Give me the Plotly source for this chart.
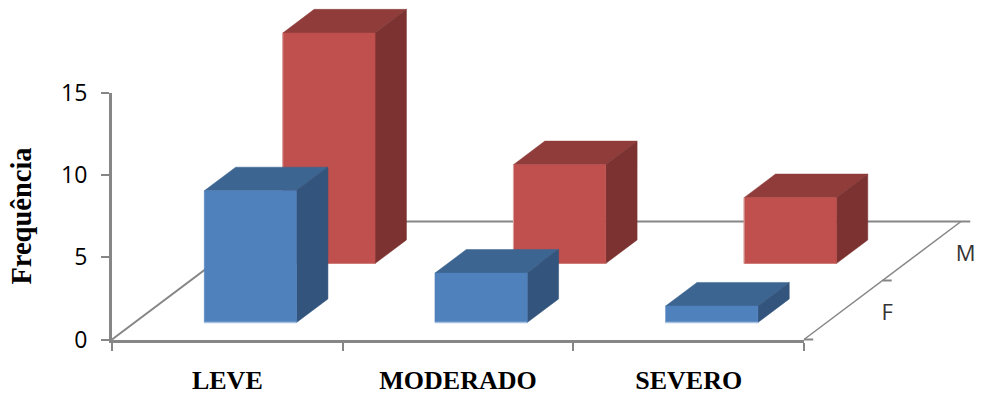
import plotly.graph_objects as go

categories = ["LEVE", "MODERADO", "SEVERO"]
rows = ["F", "M"]
values_f = [8, 3, 1]
values_m = [14, 6, 4]
y_ticks = [0, 5, 10, 15]

WIDTH, HEIGHT = 981, 394
LEFT, RIGHT, TOP, BOTTOM = 112, 804, 92.5, 339.5
GRID = "#868686"
PALETTE = {
    "F": {"front": "#4f81bd", "top": "#3d6591", "side": "#33547c", "edge": "#a9c1e0"},
    "M": {"front": "#c0504d", "top": "#8f3c3a", "side": "#7b3230", "edge": "#dba3a1"},
}

n = len(categories)
x_scale = (RIGHT - LEFT) / n
y_scale = (BOTTOM - TOP) / y_ticks[-1]

# Oblique projection: one unit of depth moves a point right and up the plot.
DEPTH_X = 157 / x_scale
DEPTH_Y = 118 / y_scale
BAR_START = 0.302
BAR_WIDTH = 0.4
ROW_START = {"F": 0.144, "M": 0.644}
BAR_DEPTH = 0.2
OVERLAY = dict(xaxis="x2", yaxis="y2", hoverinfo="skip", showlegend=False)


def project(x, y, d):
    return x + d * DEPTH_X, y + d * DEPTH_Y


def polygon(points, color):
    xs, ys = zip(*[project(*p) for p in points + points[:1]])
    return go.Scatter(x=xs, y=ys, mode="lines", fill="toself", fillcolor=color,
                      line=dict(color=color, width=0.5), **OVERLAY)


def edge(points, color, width):
    xs, ys = zip(*[project(*p) for p in points])
    return go.Scatter(x=xs, y=ys, mode="lines", line=dict(color=color, width=width), **OVERLAY)


def bar(index, value, row):
    x0 = index + BAR_START
    x1 = x0 + BAR_WIDTH
    d0 = ROW_START[row]
    d1 = d0 + BAR_DEPTH
    c = PALETTE[row]
    faces = [
        polygon([(x0, value, d0), (x1, value, d0), (x1, value, d1), (x0, value, d1)], c["top"]),
        polygon([(x1, 0, d0), (x1, 0, d1), (x1, value, d1), (x1, value, d0)], c["side"]),
        polygon([(x0, 0, d0), (x1, 0, d0), (x1, value, d0), (x0, value, d0)], c["front"]),
    ]
    if row == "F":
        faces.append(edge([(x0, 0, d0), (x1, 0, d0)], c["edge"], 1.5))
    else:
        faces.append(edge([(x0, 0, d0), (x0, value, d0)], c["edge"], 1))
    return faces


fig = go.Figure()

# The primary axes carry the ticks; this trace only brings the subplot into being.
fig.add_trace(go.Scatter(x=[0, n], y=[0, y_ticks[-1]], mode="none", hoverinfo="skip", showlegend=False))

# Floor outline and depth-axis ticks sit behind the bars.
fig.add_trace(edge([(0, 0, 0), (0, 0, 1), (n, 0, 1)], GRID, 2))
fig.add_trace(edge([(n, 0, 0), (n, 0, 1)], GRID, 1.5))
for d in [0, 0.5, 1]:
    fig.add_trace(edge([(n, 0, d), (n + 0.04, 0, d)], GRID, 2))

for row, vals in (("M", values_m), ("F", values_f)):
    for i, v in enumerate(vals):
        for face in bar(i, v, row):
            fig.add_trace(face)

# Depth-axis category names, placed beside the right floor edge.
label_x, label_y = zip(*[project(n + 0.19, -0.25, d) for d in (0.25, 0.75)])
fig.add_trace(go.Scatter(
    x=label_x, y=label_y, mode="text", text=rows,
    textfont=dict(family="Open Sans", size=22, color="#333333"), **OVERLAY,
))

fig.update_layout(
    width=WIDTH, height=HEIGHT, autosize=False,
    margin=dict(l=0, r=0, t=0, b=0, pad=0),
    paper_bgcolor="white", plot_bgcolor="rgba(0,0,0,0)",
    showlegend=False,
    xaxis=dict(
        domain=[LEFT / WIDTH, RIGHT / WIDTH], automargin=False,
        range=[0, n], showgrid=False, zeroline=False,
        showline=True, linecolor=GRID, linewidth=3,
        tickmode="array", tickvals=[i + 0.5 for i in range(n)], ticktext=categories,
        ticks="", ticklabelstandoff=15,
        tickfont=dict(family="Liberation Serif", size=26, color="black", weight="bold"),
        minor=dict(tickmode="array", tickvals=list(range(n + 1)), ticks="outside",
                   ticklen=8, tickwidth=2, tickcolor=GRID),
    ),
    yaxis=dict(
        domain=[(HEIGHT - BOTTOM) / HEIGHT, (HEIGHT - TOP) / HEIGHT], automargin=False,
        range=[0, y_ticks[-1]], showgrid=False, zeroline=False,
        showline=True, linecolor=GRID, linewidth=3,
        tickmode="array", tickvals=y_ticks,
        ticks="outside", ticklen=8, tickwidth=2, tickcolor=GRID,
        ticklabelstandoff=9,
        tickfont=dict(family="Open Sans", size=23, color="black"),
        title=dict(text="Frequência", standoff=22,
                   font=dict(family="Liberation Serif", size=28.5, color="black", weight="bold")),
    ),
    # Full-page axes on the same scale as the primary pair, so tall bars can rise past the top tick.
    xaxis2=dict(
        domain=[0, 1], anchor="y2", visible=False,
        range=[-LEFT / x_scale, (WIDTH - LEFT) / x_scale],
    ),
    yaxis2=dict(
        domain=[0, 1], anchor="x2", visible=False,
        range=[-(HEIGHT - BOTTOM) / y_scale, BOTTOM / y_scale],
    ),
)

fig.write_html("out.html")
